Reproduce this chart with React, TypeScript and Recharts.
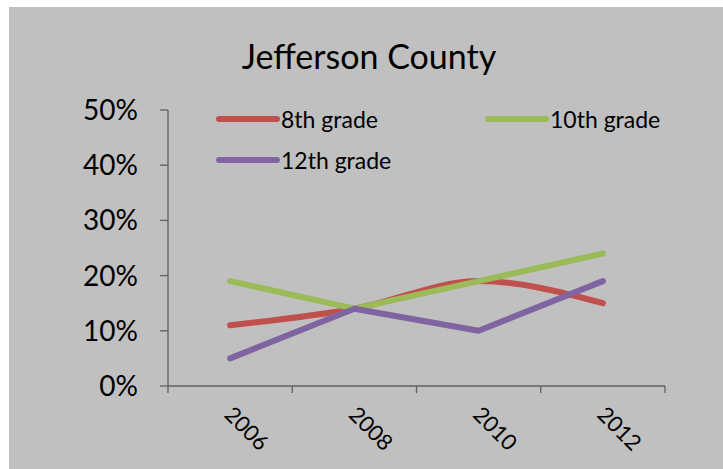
import React from "react";
import { LineChart, Line, XAxis, YAxis, Legend } from "recharts";

// values
const years = [2006, 2008, 2010, 2012];
const grade8 = [0.11, 0.14, 0.19, 0.15];
const grade10 = [0.19, 0.14, 0.19, 0.24];
const grade12 = [0.05, 0.14, 0.1, 0.19];
const yTicks = [0, 0.1, 0.2, 0.3, 0.4, 0.5];
const xTicks = [2005, 2006, 2007, 2008, 2009, 2010, 2011, 2012, 2013];
const seriesOrder = ["8th grade", "10th grade", "12th grade"];

const data = years.map((year, i) => ({
  year,
  g8: grade8[i],
  g10: grade10[i],
  g12: grade12[i],
}));

const FONT = "Lato, 'Open Sans', sans-serif";
const AXIS = "#606060";

// odd years are the divider ticks, even years are the rotated labels
function YearTick(props: any) {
  const { x, y, payload } = props;
  const v = payload.value as number;
  if (v % 2 === 1) {
    return <line x1={x} y1={y} x2={x} y2={y + 7} stroke={AXIS} strokeWidth={1.3} />;
  }
  const tx = x - 7;
  const ty = y + 30;
  return (
    <text
      x={tx}
      y={ty}
      transform={`rotate(45, ${tx}, ${ty})`}
      fontSize={22}
      fontFamily={FONT}
      fill="#000"
      textAnchor="start"
    >
      {v}
    </text>
  );
}

function GradeLegend({ payload }: any) {
  const spots = [
    { left: 0, top: 0 },
    { left: 269, top: 0 },
    { left: 0, top: 41 },
  ];
  const items = [...(payload || [])].sort(
    (a: any, b: any) => seriesOrder.indexOf(a.value) - seriesOrder.indexOf(b.value)
  );
  return (
    <div style={{ position: "relative", width: 460, height: 80 }}>
      {items.map((p: any, i: number) => (
        <div
          key={p.value}
          style={{
            position: "absolute",
            left: spots[i].left,
            top: spots[i].top,
            display: "flex",
            alignItems: "center",
            whiteSpace: "nowrap",
          }}
        >
          <svg width={66} height={10}>
            <line x1={4} y1={5} x2={62} y2={5} stroke={p.color} strokeWidth={6} strokeLinecap="round" />
          </svg>
          <span style={{ fontFamily: FONT, fontSize: 23, color: "#000" }}>{p.value}</span>
        </div>
      ))}
    </div>
  );
}

export default function App() {
  return (
    <div
      style={{
        position: "absolute",
        left: 9,
        top: 7,
        width: 714,
        height: 462,
        background: "#c0c0c0",
      }}
    >
      <div
        style={{
          position: "absolute",
          left: 0,
          width: 720,
          top: 29,
          textAlign: "center",
          fontFamily: FONT,
          fontSize: 34,
          color: "#000",
          lineHeight: "40px",
        }}
      >
        Jefferson County
      </div>
      <LineChart
        width={714}
        height={462}
        data={data}
        margin={{ top: 103, right: 58, left: 0, bottom: 0 }}
      >
        <XAxis
          dataKey="year"
          type="number"
          domain={[2005, 2013]}
          ticks={xTicks}
          interval={0}
          height={83}
          tickLine={false}
          tickSize={0}
          tickMargin={0}
          axisLine={{ stroke: AXIS, strokeWidth: 1.3 }}
          tick={<YearTick />}
        />
        <YAxis
          type="number"
          domain={[0, 0.5]}
          ticks={yTicks}
          width={159}
          tickSize={8}
          tickMargin={22}
          tickFormatter={(v: number) => `${Math.round(v * 100)}%`}
          tick={{ fontSize: 28, fontFamily: FONT, fill: "#000" }}
          axisLine={{ stroke: AXIS, strokeWidth: 1.3 }}
          tickLine={{ stroke: AXIS, strokeWidth: 1.3 }}
        />
        <Legend
          layout="vertical"
          align="center"
          verticalAlign="middle"
          content={<GradeLegend />}
          wrapperStyle={{ position: "absolute", left: 206, top: 98, width: 460 }}
        />
        <Line
          name="8th grade"
          type="monotone"
          dataKey="g8"
          stroke="#c0504d"
          strokeWidth={6}
          strokeLinecap="round"
          dot={false}
          isAnimationActive={false}
        />
        <Line
          name="10th grade"
          type="linear"
          dataKey="g10"
          stroke="#9bbb59"
          strokeWidth={6}
          strokeLinecap="round"
          dot={false}
          isAnimationActive={false}
        />
        <Line
          name="12th grade"
          type="linear"
          dataKey="g12"
          stroke="#8064a2"
          strokeWidth={6}
          strokeLinecap="round"
          strokeLinejoin="round"
          dot={false}
          isAnimationActive={false}
        />
      </LineChart>
    </div>
  );
}
